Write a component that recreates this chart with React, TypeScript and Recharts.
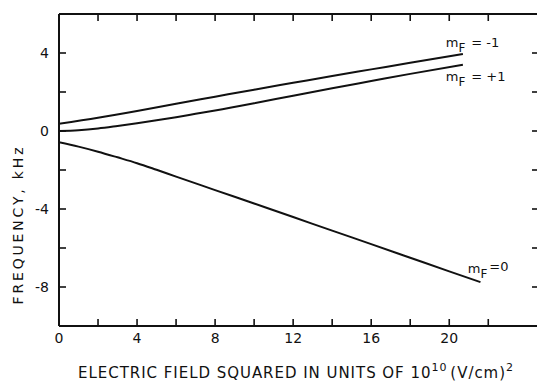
import React from 'react';
import { LineChart, Line, XAxis, YAxis, ReferenceDot } from 'recharts';

// Electric field squared (units of 10^10 (V/cm)^2) and frequency shift (kHz)
const fieldMinus1 = [0, 2, 4, 6, 8, 10, 12, 14, 16, 18, 20.7];
const freqMinus1 = [0.37, 0.68, 1.03, 1.4, 1.76, 2.12, 2.47, 2.82, 3.16, 3.5, 3.95];

const fieldPlus1 = [0, 1, 2, 3, 4, 5, 6, 7, 8, 10, 12, 14, 16, 18, 20.7];
const freqPlus1 = [0, 0.04, 0.13, 0.26, 0.4, 0.55, 0.71, 0.88, 1.05, 1.42, 1.81, 2.19, 2.56, 2.93, 3.4];

const fieldZero = [0, 1, 2, 3, 4, 5, 6, 8, 10, 12, 14, 16, 18, 20, 21.6];
const freqZero = [-0.57, -0.8, -1.06, -1.35, -1.65, -1.99, -2.34, -3.03, -3.72, -4.41, -5.11, -5.8, -6.5, -7.2, -7.75];

const xTicks = [0, 2, 4, 6, 8, 10, 12, 14, 16, 18, 20, 22];
const xTickLabels = [0, 4, 8, 12, 16, 20];
const yTicks = [-8, -6, -4, -2, 0, 2, 4];
const yTickLabels = [-8, -4, 0, 4];

const labelTexts = ['= -1', '= +1', '=0'];
const labelX = [19.82, 19.82, 20.95];
const labelY = [4.33, 2.54, -7.26];

const xDomain = [0, 24.6];
const yDomain = [-10, 6];

const INK = '#111';
const FONT = '"DejaVu Sans", "Liberation Sans", sans-serif';

const toPoints = (xs: number[], ys: number[]) => xs.map((x, i) => ({ x, y: ys[i] }));
const dataMinus1 = toPoints(fieldMinus1, freqMinus1);
const dataPlus1 = toPoints(fieldPlus1, freqPlus1);
const dataZero = toPoints(fieldZero, freqZero);

const BottomTick = (props: any) => {
  const { x, y, payload } = props;
  const v = payload.value;
  return (
    <g>
      <line x1={x} y1={y} x2={x} y2={y - 7} stroke={INK} strokeWidth={1.6} />
      {xTickLabels.includes(v) && (
        <text x={x} y={y + 17} textAnchor="middle" fontSize={14} fontFamily={FONT} fill={INK}>
          {v}
        </text>
      )}
    </g>
  );
};

const TopTick = (props: any) => {
  const { x, y } = props;
  return <line x1={x} y1={y} x2={x} y2={y + 7} stroke={INK} strokeWidth={1.6} />;
};

const LeftTick = (props: any) => {
  const { x, y, payload } = props;
  const v = payload.value;
  return (
    <g>
      <line x1={x} y1={y} x2={x + 7} y2={y} stroke={INK} strokeWidth={1.6} />
      {yTickLabels.includes(v) && (
        <text x={x - 10} y={y + 5} textAnchor="end" fontSize={14} fontFamily={FONT} fill={INK}>
          {v}
        </text>
      )}
    </g>
  );
};

const RightTick = (props: any) => {
  const { x, y } = props;
  return <line x1={x} y1={y} x2={x - 7} y2={y} stroke={INK} strokeWidth={1.6} />;
};

const makeLabel = (txt: string, tight: boolean) => (props: any) => {
  const { cx, cy } = props;
  return (
    <text x={cx} y={cy} fontSize={13} fontFamily={FONT} fill={INK}>
      <tspan>m</tspan>
      <tspan dy={5} fontSize={12}>F</tspan>
      <tspan dy={tight ? -7 : -5} dx={tight ? 2 : 6}>{txt}</tspan>
    </text>
  );
};

export default function App() {
  return (
    <div
      style={{
        position: 'absolute',
        left: 0,
        top: 0,
        width: 537,
        height: 383,
        overflow: 'hidden',
        background: '#fff',
      }}
    >
      <LineChart
        width={545}
        height={383}
        margin={{ top: 13, right: 5, bottom: 56, left: 58 }}
      >
        <XAxis
          xAxisId="bottom"
          dataKey="x"
          type="number"
          domain={xDomain}
          ticks={xTicks}
          interval={0}
          orientation="bottom"
          height={1}
          tickSize={0}
          tickMargin={0}
          tickLine={false}
          tick={BottomTick}
          axisLine={{ stroke: INK, strokeWidth: 2 }}
          allowDataOverflow
        />
        <XAxis
          xAxisId="top"
          dataKey="x"
          type="number"
          domain={xDomain}
          ticks={xTicks}
          interval={0}
          orientation="top"
          height={1}
          tickSize={0}
          tickMargin={0}
          tickLine={false}
          tick={TopTick}
          axisLine={{ stroke: INK, strokeWidth: 2 }}
          allowDataOverflow
        />
        <YAxis
          yAxisId="left"
          type="number"
          domain={yDomain}
          ticks={yTicks}
          interval={0}
          orientation="left"
          width={1}
          tickSize={0}
          tickMargin={0}
          tickLine={false}
          tick={LeftTick}
          axisLine={{ stroke: INK, strokeWidth: 2 }}
          allowDataOverflow
        />
        <YAxis
          yAxisId="right"
          type="number"
          domain={yDomain}
          ticks={yTicks}
          interval={0}
          orientation="right"
          width={1}
          tickSize={0}
          tickMargin={0}
          tickLine={false}
          tick={RightTick}
          axisLine={{ stroke: INK, strokeWidth: 2 }}
          allowDataOverflow
        />
        <Line
          xAxisId="bottom"
          yAxisId="left"
          data={dataMinus1}
          dataKey="y"
          type="monotone"
          stroke={INK}
          strokeWidth={2}
          dot={false}
          isAnimationActive={false}
        />
        <Line
          xAxisId="bottom"
          yAxisId="left"
          data={dataPlus1}
          dataKey="y"
          type="monotone"
          stroke={INK}
          strokeWidth={2}
          dot={false}
          isAnimationActive={false}
        />
        <Line
          xAxisId="bottom"
          yAxisId="left"
          data={dataZero}
          dataKey="y"
          type="monotone"
          stroke={INK}
          strokeWidth={2}
          dot={false}
          isAnimationActive={false}
        />
        {labelTexts.map((t, i) => (
          <ReferenceDot
            key={t}
            xAxisId="bottom"
            yAxisId="left"
            x={labelX[i]}
            y={labelY[i]}
            r={0}
            shape={makeLabel(t, i === 2)}
          />
        ))}
        <text
          x={78}
          y={378}
          fontSize={15}
          fontFamily={FONT}
          fill={INK}
          textLength={435}
          lengthAdjust="spacing"
        >
          ELECTRIC FIELD SQUARED IN UNITS OF 10
          <tspan dy={-7} fontSize={11}>10</tspan>
          <tspan dy={7} dx={3}>(V/cm)</tspan>
          <tspan dy={-7} fontSize={11}>2</tspan>
        </text>
        <text
          x={23}
          y={226}
          transform="rotate(-90 23 226)"
          textAnchor="middle"
          fontSize={14}
          fontFamily={FONT}
          fill={INK}
          textLength={157}
          lengthAdjust="spacing"
        >
          FREQUENCY,  kHz
        </text>
      </LineChart>
    </div>
  );
}
